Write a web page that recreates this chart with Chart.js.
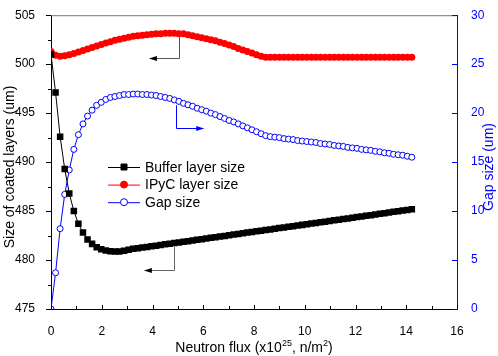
<!DOCTYPE html>
<html lang="en">
<head>
    <meta charset="UTF-8">
    <title>Coated layer sizes vs neutron flux</title>
    <script src="https://cdn.jsdelivr.net/npm/chart.js"></script>
    <style>
        body { margin: 0; background: #fff; }
        #wrap { width: 498px; height: 356px; }
    </style>
</head>
<body>
<div id="wrap"><canvas id="chart" width="498" height="356"></canvas></div>
<script>
    // neutron flux (x10^25 n/m^2)
    const flux = [
        0, 0.18, 0.36, 0.54, 0.72, 0.9, 1.08, 1.26, 1.44, 1.62,
        1.8, 1.98, 2.16, 2.34, 2.52, 2.7, 2.88, 3.06, 3.24, 3.42,
        3.6, 3.78, 3.96, 4.14, 4.32, 4.5, 4.68, 4.86, 5.04, 5.22,
        5.4, 5.58, 5.76, 5.94, 6.12, 6.3, 6.48, 6.66, 6.84, 7.02,
        7.2, 7.38, 7.56, 7.74, 7.92, 8.1, 8.28, 8.46, 8.64, 8.82,
        9, 9.18, 9.36, 9.54, 9.72, 9.9, 10.08, 10.26, 10.44, 10.62,
        10.8, 10.98, 11.16, 11.34, 11.52, 11.7, 11.88, 12.06, 12.24, 12.42,
        12.6, 12.78, 12.96, 13.14, 13.32, 13.5, 13.68, 13.86, 14.04, 14.22
    ];
    const bufferSize = [
        501.0, 497.1, 492.6, 489.3, 486.8, 485.0, 483.7, 482.8, 482.1, 481.65,
        481.3, 481.1, 480.98, 480.9, 480.87, 480.87, 480.95, 481.05, 481.14, 481.21,
        481.27, 481.34, 481.40, 481.47, 481.54, 481.60, 481.67, 481.74, 481.80, 481.87,
        481.93, 482.00, 482.07, 482.13, 482.20, 482.27, 482.33, 482.40, 482.46, 482.53,
        482.60, 482.66, 482.73, 482.80, 482.86, 482.93, 482.99, 483.06, 483.13, 483.19,
        483.26, 483.33, 483.39, 483.46, 483.52, 483.59, 483.66, 483.72, 483.79, 483.86,
        483.92, 483.99, 484.05, 484.12, 484.19, 484.25, 484.32, 484.39, 484.45, 484.52,
        484.58, 484.65, 484.72, 484.78, 484.85, 484.92, 484.98, 485.05, 485.11, 485.18
    ];
    const ipycSize = [
        501.3, 500.9, 500.8, 500.85, 500.95, 501.1, 501.25, 501.4, 501.55, 501.7,
        501.85, 502.0, 502.15, 502.3, 502.45, 502.55, 502.65, 502.75, 502.85, 502.9,
        502.95, 503.0, 503.05, 503.1, 503.1, 503.15, 503.15, 503.15, 503.1, 503.1,
        503.0, 502.9, 502.8, 502.7, 502.6, 502.5, 502.4, 502.25, 502.1, 501.95,
        501.8, 501.6, 501.45, 501.3, 501.15, 500.95, 500.8, 500.7, 500.7, 500.7,
        500.7, 500.7, 500.7, 500.7, 500.7, 500.7, 500.7, 500.7, 500.7, 500.7,
        500.7, 500.7, 500.7, 500.7, 500.7, 500.7, 500.7, 500.7, 500.7, 500.7,
        500.7, 500.7, 500.7, 500.7, 500.7, 500.7, 500.7, 500.7, 500.7, 500.7
    ];
    const gapSize = [
        0, 3.7, 8.2, 11.7, 14.2, 16.3, 17.8, 18.9, 19.7, 20.3,
        20.8, 21.1, 21.4, 21.6, 21.7, 21.8, 21.9, 21.9, 21.95, 21.95,
        21.9, 21.9, 21.85, 21.8, 21.7, 21.6, 21.5, 21.35, 21.2, 21.0,
        20.85, 20.7, 20.5, 20.35, 20.2, 20.0, 19.85, 19.65, 19.45, 19.25,
        19.1, 18.9, 18.7, 18.5, 18.3, 18.1, 17.9, 17.7, 17.6, 17.55,
        17.5, 17.4, 17.35, 17.3, 17.2, 17.15, 17.1, 17.05, 17.0, 16.9,
        16.85, 16.8, 16.7, 16.65, 16.6, 16.5, 16.45, 16.4, 16.3, 16.25,
        16.2, 16.1, 16.05, 15.95, 15.9, 15.8, 15.75, 15.7, 15.6, 15.5
    ];

    const xTicks = [0, 2, 4, 6, 8, 10, 12, 14, 16];
    const leftTicks = [475, 480, 485, 490, 495, 500, 505];
    const rightTicks = [0, 5, 10, 15, 20, 25, 30];

    const FONT = 'Arial, "Liberation Sans", sans-serif';
    const BLUE = '#0000ff';

    const pts = ys => flux.map((x, i) => ({ x: x, y: ys[i] }));
    const fixTicks = list => scale => { scale.ticks = list.map(v => ({ value: v })); };

    // ticks, frame, titles, legend and arrows
    const decor = {
        id: 'decor',
        afterDraw(chart) {
            const ctx = chart.ctx;
            const a = chart.chartArea;
            const sx = chart.scales.x, sy = chart.scales.y, sr = chart.scales.y1;
            ctx.save();
            ctx.lineWidth = 1;

            // top frame line
            ctx.strokeStyle = '#777';
            ctx.beginPath();
            ctx.moveTo(a.left, a.top + 0.5);
            ctx.lineTo(a.right, a.top + 0.5);
            ctx.stroke();

            // x ticks (inward), minor every 1
            ctx.strokeStyle = '#000';
            ctx.beginPath();
            for (let v = 0; v <= 16; v++) {
                const px = Math.round(sx.getPixelForValue(v)) + 0.5;
                const len = v % 2 === 0 ? 4 : 3;
                ctx.moveTo(px, a.bottom);
                ctx.lineTo(px, a.bottom - len);
            }
            // left ticks (outward), minor halfway
            for (let v = 475; v <= 505; v += 2.5) {
                const py = Math.round(sy.getPixelForValue(v)) + 0.5;
                const len = v % 5 === 0 ? 5 : 3;
                ctx.moveTo(a.left, py);
                ctx.lineTo(a.left - len, py);
            }
            ctx.stroke();

            // right ticks (inward), blue
            ctx.strokeStyle = BLUE;
            ctx.beginPath();
            rightTicks.forEach(v => {
                const py = Math.round(sr.getPixelForValue(v)) + 0.5;
                ctx.moveTo(a.right, py);
                ctx.lineTo(a.right - 5, py);
            });
            ctx.stroke();

            // axis titles
            const midY = 167;
            ctx.fillStyle = '#000';
            ctx.font = '14px ' + FONT;
            ctx.textAlign = 'center';
            ctx.textBaseline = 'middle';
            ctx.save();
            ctx.translate(10, midY);
            ctx.rotate(-Math.PI / 2);
            ctx.fillText('Size of coated layers (um)', 0, 0);
            ctx.restore();

            ctx.save();
            ctx.fillStyle = BLUE;
            ctx.translate(489, midY);
            ctx.rotate(-Math.PI / 2);
            ctx.fillText('Gap size (um)', 0, 0);
            ctx.restore();

            // x title with superscripts
            const parts = [
                ['Neutron flux (x10', false], ['25', true], [', n/m', false], ['2', true], [')', false]
            ];
            const big = '14px ' + FONT, small = '9px ' + FONT;
            let total = 0;
            parts.forEach(p => { ctx.font = p[1] ? small : big; total += ctx.measureText(p[0]).width; });
            let cx = 254 - total / 2;
            const base = 352;
            ctx.textAlign = 'left';
            ctx.textBaseline = 'alphabetic';
            parts.forEach(p => {
                ctx.font = p[1] ? small : big;
                ctx.fillText(p[0], cx, p[1] ? base - 6 : base);
                cx += ctx.measureText(p[0]).width;
            });

            // legend
            const legend = [
                { label: 'Buffer layer size', color: '#000', style: 'rect', fill: '#000' },
                { label: 'IPyC layer size', color: '#ff0000', style: 'circle', fill: '#ff0000' },
                { label: 'Gap size', color: BLUE, style: 'circle', fill: '#fff' }
            ];
            ctx.font = '14px ' + FONT;
            ctx.textBaseline = 'middle';
            legend.forEach((it, i) => {
                const ly = 167 + i * 17.6;
                ctx.strokeStyle = it.color;
                ctx.lineWidth = 1;
                ctx.beginPath();
                ctx.moveTo(108, ly + 0.5);
                ctx.lineTo(140, ly + 0.5);
                ctx.stroke();
                ctx.fillStyle = it.fill;
                ctx.beginPath();
                if (it.style === 'rect') {
                    ctx.rect(124 - 3, ly - 3, 6, 6);
                } else {
                    ctx.arc(124, ly, 3.5, 0, Math.PI * 2);
                }
                ctx.fill();
                ctx.stroke();
                ctx.fillStyle = '#000';
                ctx.fillText(it.label, 145, ly + 1);
            });

            // arrows
            const arrow = (x0, y0, yTurn, x1, scale, lineCol, headCol) => {
                const px0 = Math.round(sx.getPixelForValue(x0)) + 0.5;
                const py0 = scale.getPixelForValue(y0);
                const pyT = Math.round(scale.getPixelForValue(yTurn)) + 0.5;
                const px1 = sx.getPixelForValue(x1);
                ctx.strokeStyle = lineCol;
                ctx.lineWidth = 1;
                ctx.beginPath();
                ctx.moveTo(px0, py0);
                ctx.lineTo(px0, pyT);
                ctx.lineTo(px1, pyT);
                ctx.stroke();
                const dir = px1 < px0 ? -1 : 1;
                ctx.fillStyle = headCol;
                ctx.beginPath();
                ctx.moveTo(px1 + dir * 1, pyT);
                ctx.lineTo(px1 - dir * 7, pyT - 2.5);
                ctx.lineTo(px1 - dir * 7, pyT + 2.5);
                ctx.closePath();
                ctx.fill();
            };
            arrow(5.06, 503.0, 500.6, 3.9, sy, '#555', '#000');
            arrow(4.92, 20.8, 18.5, 6.0, sr, BLUE, BLUE);
            arrow(4.85, 481.4, 479.0, 3.7, sy, '#666', '#000');

            ctx.restore();
        }
    };

    new Chart(document.getElementById('chart').getContext('2d'), {
        type: 'line',
        data: {
            datasets: [
                {
                    label: 'Buffer layer size',
                    data: pts(bufferSize),
                    yAxisID: 'y',
                    borderColor: '#000',
                    backgroundColor: '#000',
                    borderWidth: 1,
                    pointStyle: 'rect',
                    pointRadius: 4.6,
                    pointBorderWidth: 0
                },
                {
                    label: 'IPyC layer size',
                    data: pts(ipycSize),
                    yAxisID: 'y',
                    borderColor: '#ff0000',
                    backgroundColor: '#ff0000',
                    borderWidth: 1,
                    pointStyle: 'circle',
                    pointRadius: 3.5,
                    pointBorderWidth: 0
                },
                {
                    label: 'Gap size',
                    data: pts(gapSize),
                    yAxisID: 'y1',
                    borderColor: BLUE,
                    backgroundColor: '#fff',
                    borderWidth: 1,
                    pointStyle: 'circle',
                    pointRadius: 3,
                    pointBorderWidth: 1
                }
            ]
        },
        options: {
            responsive: false,
            animation: false,
            devicePixelRatio: 1,
            layout: { padding: { top: 7, left: 0, right: 0, bottom: 0 } },
            plugins: { legend: { display: false }, tooltip: { enabled: false } },
            scales: {
                x: {
                    type: 'linear',
                    min: 0, max: 16,
                    afterBuildTicks: fixTicks(xTicks),
                    afterFit: s => { s.height = 47; },
                    grid: { display: false },
                    border: { display: true, color: '#000', width: 1 },
                    ticks: { color: '#000', font: { family: FONT, size: 12 }, padding: 7, maxRotation: 0 }
                },
                y: {
                    position: 'left',
                    min: 475, max: 505,
                    afterBuildTicks: fixTicks(leftTicks),
                    afterFit: s => { s.width = 51; },
                    grid: { display: false },
                    border: { display: true, color: '#000', width: 1 },
                    ticks: { color: '#000', font: { family: FONT, size: 12 }, padding: 8 }
                },
                y1: {
                    position: 'right',
                    min: 0, max: 30,
                    afterBuildTicks: fixTicks(rightTicks),
                    afterFit: s => { s.width = 41; },
                    grid: { display: false },
                    border: { display: true, color: BLUE, width: 1 },
                    ticks: { color: BLUE, font: { family: FONT, size: 12 }, padding: 6 }
                }
            }
        },
        plugins: [decor]
    });
</script>
</body>
</html>
